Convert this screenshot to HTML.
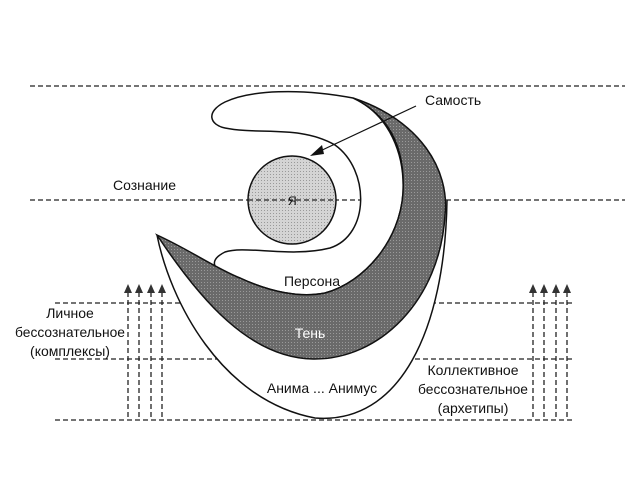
<!DOCTYPE html>
<html><head><meta charset="utf-8"><style>html,body{margin:0;padding:0;background:#fff}svg{display:block}</style></head>
<body>
<svg width="625" height="500" viewBox="0 0 625 500" xmlns="http://www.w3.org/2000/svg" font-family="'Liberation Sans', sans-serif" font-size="14" fill="#111">
<defs>
<pattern id="dk" width="3" height="3" patternUnits="userSpaceOnUse"><rect width="3" height="3" fill="#6a6a6a"/><rect width="1" height="1" fill="#9a9a9a"/></pattern>
<pattern id="lt" width="3" height="3" patternUnits="userSpaceOnUse"><rect width="3" height="3" fill="#d4d4d4"/><rect width="1" height="1" fill="#999"/></pattern>
</defs>
<g stroke="#222" stroke-width="1.3" stroke-dasharray="5,3" fill="none">
<line x1="30" y1="86" x2="625" y2="86"/>
<line x1="30" y1="200" x2="625" y2="200"/>
<line x1="55" y1="303" x2="575" y2="303"/>
<line x1="55" y1="359" x2="575" y2="359"/>
<line x1="55" y1="420" x2="575" y2="420"/>
<line x1="128" y1="292" x2="128" y2="420"/>
<line x1="139" y1="292" x2="139" y2="420"/>
<line x1="151" y1="292" x2="151" y2="420"/>
<line x1="162" y1="292" x2="162" y2="420"/>
<line x1="533" y1="292" x2="533" y2="420"/>
<line x1="544" y1="292" x2="544" y2="420"/>
<line x1="556" y1="292" x2="556" y2="420"/>
<line x1="567" y1="292" x2="567" y2="420"/>
</g>
<g fill="#333">
<path d="M128 284 l-4 9 h8z M139 284 l-4 9 h8z M151 284 l-4 9 h8z M162 284 l-4 9 h8z"/>
<path d="M533 284 l-4 9 h8z M544 284 l-4 9 h8z M556 284 l-4 9 h8z M567 284 l-4 9 h8z"/>
</g>
<path d="M157 235 C 170 300 220 400 315 418 C 400 425 445 330 447 200" fill="#fff" stroke="#111" stroke-width="1.5"/>
<path d="M353 98 C 300 88 250 90 225 102 C 205 112 210 125 225 128 C 260 135 300 125 335 145 C 370 170 370 235 330 248 C 290 258 245 245 225 252 C 205 262 215 273 240 278 C 270 292 300 298 325 293 C 365 282 400 240 403 193 C 405 155 390 115 353 98 Z" fill="#fff" stroke="#111" stroke-width="1.5"/>
<path d="M353 98 C 420 120 450 170 445 215 C 440 300 380 360 313 359 C 250 358 200 300 157 235 C 190 250 215 268 240 278 C 270 292 300 298 325 293 C 365 282 400 240 403 193 C 405 155 395 118 353 98 Z" fill="url(#dk)" stroke="#111" stroke-width="1.5"/>
<circle cx="292" cy="200" r="44" fill="url(#lt)" stroke="#111" stroke-width="1.5"/>
<line x1="248" y1="200" x2="336" y2="200" stroke="#222" stroke-width="1.2" stroke-dasharray="5,3"/>
<line x1="416" y1="106" x2="318" y2="152" stroke="#111" stroke-width="1.2"/>
<path d="M310 156 L322 145 L324 154 Z" fill="#111"/>
<text x="425" y="105" font-size="14">Самость</text>
<text x="113" y="190" font-size="14">Сознание</text>
<text x="288" y="205" font-size="12">Я</text>
<text x="312" y="286" text-anchor="middle" font-size="14">Персона</text>
<text x="310" y="338" text-anchor="middle" font-size="14" fill="#fff">Тень</text>
<text x="322" y="393" text-anchor="middle" font-size="14">Анима ... Анимус</text>
<g text-anchor="middle" font-size="14">
<text x="70" y="318">Личное</text>
<text x="70" y="337" textLength="110" lengthAdjust="spacingAndGlyphs">бессознательное</text>
<text x="70" y="356">(комплексы)</text>
<text x="473" y="375">Коллективное</text>
<text x="473" y="394" textLength="110" lengthAdjust="spacingAndGlyphs">бессознательное</text>
<text x="473" y="413">(архетипы)</text>
</g>
</svg>
</body></html>
